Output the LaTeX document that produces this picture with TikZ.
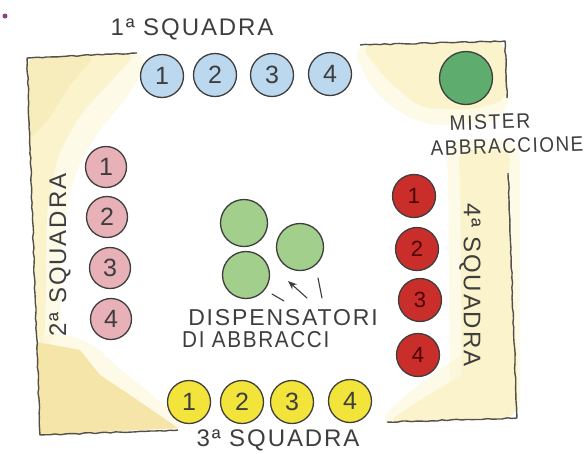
\documentclass[tikz,border=0pt]{standalone}
\usepackage{fontspec}
\setmainfont{Liberation Sans}
\newfontfamily\hand[LetterSpace=8]{Liberation Sans}
\usetikzlibrary{decorations.pathmorphing,arrows.meta}
\definecolor{ink}{HTML}{3E3E3E}
\definecolor{wallc}{HTML}{555048}
\definecolor{paley}{HTML}{FAF3CC}
\definecolor{midy}{HTML}{F7EDBC}
\definecolor{deepy}{HTML}{F5E5A8}
\definecolor{bluef}{HTML}{BCD8EE}
\definecolor{pinkf}{HTML}{E8B1B7}
\definecolor{redf}{HTML}{C92E2B}
\definecolor{yelf}{HTML}{F2E43A}
\definecolor{greenl}{HTML}{A2CF8C}
\definecolor{greend}{HTML}{5EAD6F}
\definecolor{dotc}{HTML}{8E3F84}
\tikzset{
  wall/.style={draw=wallc, line width=1.4pt, line join=round, decorate,
    decoration={random steps, segment length=5pt, amplitude=0.6pt}},
  player/.style={circle, draw=ink, line width=1.3pt, minimum size=43pt, inner sep=0pt,
    text=ink, font=\fontsize{25}{25}\selectfont},
  bluep/.style={player, fill=bluef},
  pinkp/.style={player, fill=pinkf, minimum size=41pt},
  redp/.style={player, fill=redf, minimum size=43pt, text=black!70!red, font=\fontsize{22}{22}\selectfont},
  yelp/.style={player, fill=yelf},
  disp/.style={circle, draw=ink, line width=1.3pt, minimum size=47pt, inner sep=0pt, fill=greenl},
  label/.style={text=ink, inner sep=0pt, font=\hand\fontsize{24}{24}\selectfont},
  stroke/.style={draw=ink, line width=1.1pt, line cap=round},
  tint/.style={fill=paley, rounded corners=12pt},
  halo/.style={fill=paley, opacity=0.45, rounded corners=20pt}
}
\begin{document}
\begin{tikzpicture}[x=1pt,y=-1pt]
\useasboundingbox (0,0) rectangle (588,453);
% soft outer halos
\fill[halo] (27,58) -- (150,52) -- (130,95) -- (95,135) -- (72,180) -- (62,240) -- (60,340) -- (37,350) -- cycle;
\fill[halo] (350,45) -- (505,41) -- (510,115) -- (480,125) -- (420,125) -- (375,95) -- cycle;
\fill[halo] (445,140) -- (520,140) -- (520,420) -- (450,405) -- (448,170) -- cycle;
\fill[halo] (375,424) -- (517,418) -- (517,330) -- (460,355) -- (405,395) -- cycle;
\fill[halo] (37,330) -- (90,340) -- (120,370) -- (150,392) -- (190,430) -- (40,436) -- cycle;
% background tints of the corners
\fill[tint] (27,58) -- (137,53) -- (112,80) -- (80,115) -- (58,155) -- (47,210) -- (45,340) -- (37,345) -- cycle;
\fill[midy, rounded corners=8pt] (27,58) -- (95,56) -- (70,85) -- (48,120) -- (30,140) -- cycle;
\fill[deepy] (37,342) -- (80,350) -- (100,375) -- (130,395) -- (178,428) -- (40,435) -- cycle;
\fill[tint] (360,45) -- (505,41) -- (507,100) -- (470,110) -- (420,108) -- (385,78) -- cycle;
\fill[tint] (458,150) -- (512,150) -- (508,172) -- (517,418) -- (462,395) -- (460,170) -- cycle;
\fill[tint] (387,422) -- (517,417) -- (517,350) -- (470,370) -- (420,400) -- cycle;
% walls
\draw[wall] (137,53) -- (27,58) -- (40,435) -- (178,430);
\draw[wall] (360,45) -- (505,41) -- (507,98);
\draw[wall] (508,173) -- (517,418) -- (387,422);
% dot
\fill[dotc] (5,16) circle (2.5);
% team 1
\node[bluep] (b1) at (162,76) {1};
\node[bluep] (b2) at (215,75) {2};
\node[bluep] (b3) at (272,75) {3};
\node[bluep] (b4) at (330,74) {4};
\node[label] (t1) at (192,29) {1ª SQUADRA};
% team 2
\node[pinkp] (p1) at (106,167) {1};
\node[pinkp] (p2) at (107,217) {2};
\node[pinkp] (p3) at (110,268) {3};
\node[pinkp] (p4) at (111,319) {4};
\node[label, rotate=90] (t2) at (60,255) {2ª SQUADRA};
% team 4
\node[redp] (r1) at (414,196) {1};
\node[redp] (r2) at (417,249) {2};
\node[redp] (r3) at (420,300) {3};
\node[redp] (r4) at (418,355) {4};
\node[label, rotate=-90] (t4) at (470,285) {4ª SQUADRA};
% team 3
\node[yelp] (y1) at (189,402) {1};
\node[yelp] (y2) at (242,402) {2};
\node[yelp] (y3) at (292,402) {3};
\node[yelp] (y4) at (350,401) {4};
\node[label] (t3) at (278,440) {3ª SQUADRA};
% mister
\node[disp, fill=greend, minimum size=53pt] (mr) at (466,78) {};
\node[label, rotate=2, xscale=0.92, font=\hand\fontsize{21}{21}\selectfont] (m1) at (490,122) {MISTER};
\node[label, rotate=2, xscale=0.9, font=\hand\fontsize{21}{21}\selectfont] (m2) at (507,146) {ABBRACCIONE};
% dispensers
\node[disp] (d1) at (244,223) {};
\node[disp] (d2) at (300,247) {};
\node[disp] (d3) at (246,275) {};
\node[label, font=\hand\fontsize{23}{23}\selectfont] (dl1) at (283,318) {DISPENSATORI};
\node[label, anchor=west, xscale=0.9, font=\hand\fontsize{23}{23}\selectfont] (dl2) at (182,340) {DI ABBRACCI};
% arrow and marks
\coordinate (aS) at (307,298);
\coordinate (aE) at (288,281);
\draw[stroke, -{Stealth[length=9pt,width=7pt]}] (aS) -- (aE);
\coordinate (m1a) at (272,294);
\coordinate (m1b) at (284,301);
\draw[stroke] (m1a) -- (m1b);
\coordinate (m2a) at (318,278);
\coordinate (m2b) at (322,298);
\draw[stroke] (m2a) -- (m2b);
\end{tikzpicture}
\end{document}
